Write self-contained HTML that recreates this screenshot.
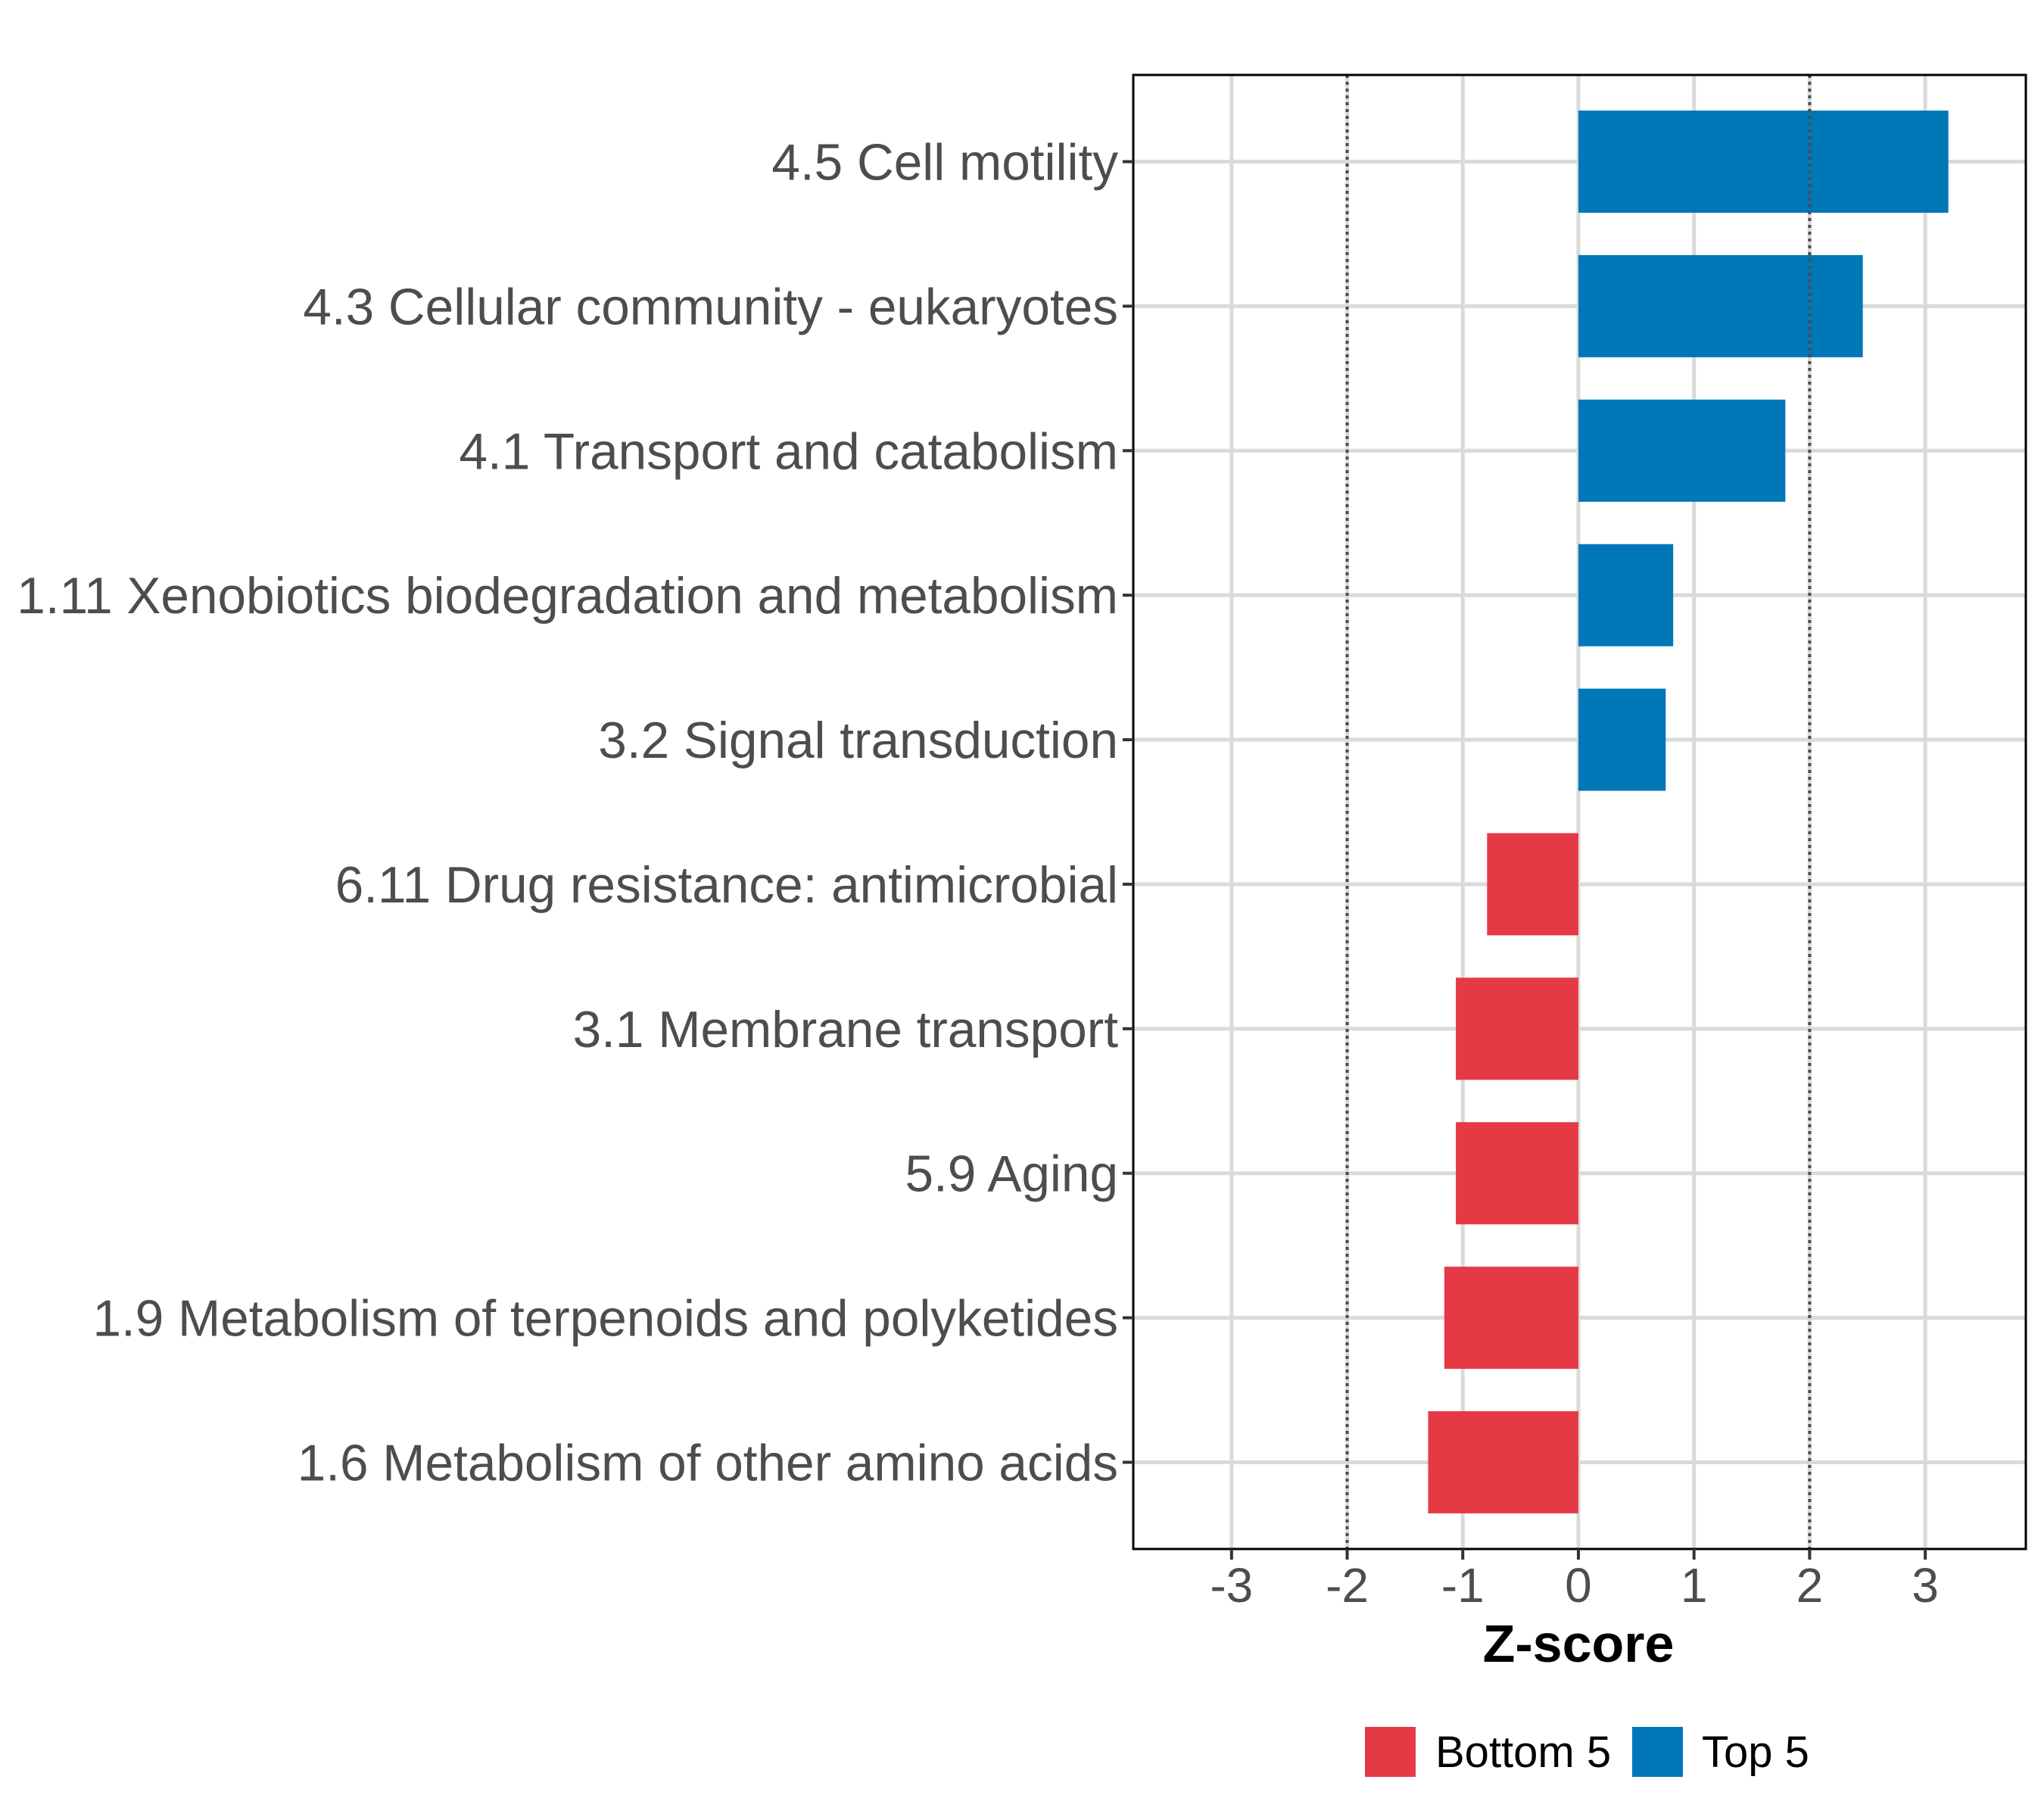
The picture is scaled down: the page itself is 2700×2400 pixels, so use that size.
<!DOCTYPE html>
<html><head><meta charset="utf-8"><style>
html,body{margin:0;padding:0;background:#fff;}
svg{display:block;font-family:"Liberation Sans",Arial,sans-serif;}
</style></head><body>
<svg id="chart" width="2700" height="2400" viewBox="0 0 2700 2400">
<rect width="2700" height="2400" fill="#fff"/>
<g id="grid"></g><g id="bars"></g><g id="ref"></g><g id="axes"></g>
<text x="2085" y="2195" text-anchor="middle" font-size="70" font-weight="bold" fill="#000">Z-score</text>
<g>
<rect x="1803" y="2281" width="67" height="66" fill="#E63946"/>
<text x="1896" y="2334" font-size="58" fill="#000">Bottom 5</text>
<rect x="2156" y="2281" width="67" height="66" fill="#0077B6"/>
<text x="2248" y="2334" font-size="58" fill="#000">Top 5</text>
</g>
</svg>
<script>
const categories = ["4.5 Cell motility","4.3 Cellular community - eukaryotes","4.1 Transport and catabolism","1.11 Xenobiotics biodegradation and metabolism","3.2 Signal transduction","6.11 Drug resistance: antimicrobial","3.1 Membrane transport","5.9 Aging","1.9 Metabolism of terpenoids and polyketides","1.6 Metabolism of other amino acids"];
const zscores = [3.2, 2.46, 1.79, 0.82, 0.755, -0.79, -1.06, -1.06, -1.16, -1.30];
const groups = ["Top 5","Top 5","Top 5","Top 5","Top 5","Bottom 5","Bottom 5","Bottom 5","Bottom 5","Bottom 5"];
const xTicks = [-3,-2,-1,0,1,2,3];
const refLines = [-2, 2];

const NS = "http://www.w3.org/2000/svg";
const L = 1497, R = 2676, T = 99, B = 2046;
const xMin = -3.85, xMax = 3.87;
const x = v => L + (v - xMin) / (xMax - xMin) * (R - L);
const step = (B - T) / (categories.length + 0.2);
const y = i => T + (0.6 + i) * step;
const bw = step * 0.707;
function mk(tag, attrs, parent){const e=document.createElementNS(NS,tag);for(const k in attrs)e.setAttribute(k,attrs[k]);parent.appendChild(e);return e;}
const grid=document.getElementById('grid'), bars=document.getElementById('bars'), ref=document.getElementById('ref'), axes=document.getElementById('axes');
xTicks.forEach(t=>{
  const g=mk('line',{x1:x(t),x2:x(t),y1:T,y2:B,stroke:'#dadada','stroke-width':5},grid);
  
  
});
categories.forEach((c,i)=>{
  const g=mk('line',{x1:L,x2:R,y1:y(i),y2:y(i),stroke:'#dadada','stroke-width':5},grid);
  
  
});
zscores.forEach((v,i)=>{
  const x0=Math.min(x(0),x(v)), w=Math.abs(x(v)-x(0));
  const r=mk('rect',{x:x0,y:y(i)-bw/2,width:w,height:bw,fill:groups[i]==='Top 5'?'#0077B6':'#E63946'},bars);
  
  
});
refLines.forEach(v=>{
  const l=mk('line',{x1:x(v),x2:x(v),y1:T,y2:B,stroke:'#4d4d4d','stroke-width':4,'stroke-dasharray':'4 5'},ref);
  
  
});
const p=mk('rect',{x:L,y:T,width:R-L,height:B-T,fill:'none',stroke:'#000','stroke-width':3},axes);


xTicks.forEach(t=>{
  const tk=mk('line',{x1:x(t),x2:x(t),y1:B,y2:B+14,stroke:'#333','stroke-width':4},axes);
  
  
  const tx=mk('text',{x:x(t),y:2116,'text-anchor':'middle','font-size':64,fill:'#4d4d4d'},axes);
  tx.textContent = (t<0?'-':'')+Math.abs(t);
  
  
});
categories.forEach((c,i)=>{
  const tk=mk('line',{x1:L-14,x2:L,y1:y(i),y2:y(i),stroke:'#333','stroke-width':4},axes);
  
  
  const tx=mk('text',{x:L-20,y:y(i)+24,'text-anchor':'end','font-size':67.5,fill:'#4d4d4d'},axes);
  tx.textContent=c;
  
  
});
</script>
</body></html>
